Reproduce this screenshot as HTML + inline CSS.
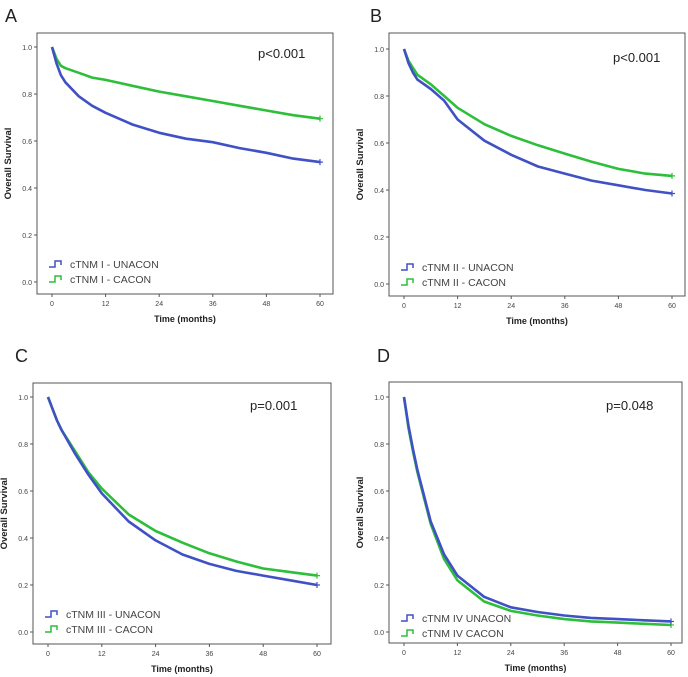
<!DOCTYPE html>
<html><head><meta charset="utf-8"><style>
body{margin:0;background:#fff;}
svg{display:block;font-family:"Liberation Sans",sans-serif;}
</style></head><body>
<svg id="fig" width="688" height="677" viewBox="0 0 688 677"></svg>
<script>
const months=[0,1,2,3,6,9,12,18,24,30,36,42,48,54,60];
const yTicks=[0,0.2,0.4,0.6,0.8,1.0];
const yTickLabels=["0.0","0.2","0.4","0.6","0.8","1.0"];
const xTicks=[0,12,24,36,48,60];
const aUnacon=[1,0.93,0.88,0.85,0.79,0.75,0.72,0.67,0.635,0.61,0.595,0.57,0.55,0.525,0.51];
const aCacon=[1,0.95,0.92,0.91,0.89,0.87,0.86,0.835,0.81,0.79,0.77,0.75,0.73,0.71,0.695];
const bUnacon=[1,0.94,0.9,0.87,0.83,0.78,0.7,0.61,0.55,0.5,0.47,0.44,0.42,0.4,0.385];
const bCacon=[1,0.95,0.92,0.89,0.85,0.8,0.75,0.68,0.63,0.59,0.555,0.52,0.49,0.47,0.46];
const cUnacon=[1,0.95,0.9,0.86,0.76,0.67,0.59,0.47,0.39,0.33,0.29,0.26,0.24,0.22,0.2];
const cCacon=[1,0.95,0.9,0.86,0.77,0.68,0.61,0.5,0.43,0.38,0.335,0.3,0.27,0.255,0.24];
const dUnacon=[1,0.88,0.78,0.69,0.47,0.33,0.24,0.15,0.105,0.085,0.07,0.06,0.055,0.05,0.045];
const dCacon=[1,0.87,0.77,0.68,0.46,0.31,0.22,0.13,0.09,0.07,0.055,0.045,0.04,0.035,0.03];

const NS="http://www.w3.org/2000/svg";
const svg=document.getElementById('fig');
function mk(tag,attrs,parent,text){const e=document.createElementNS(NS,tag);for(const k in attrs)e.setAttribute(k,attrs[k]);if(text!==undefined)e.textContent=text;(parent||svg).appendChild(e);return e;}

const panels=[
 {id:'a',letter:'A',lx:5,ly:22,box:[37,33,333,294],x0:52,x1:320,y1:47,y0:282,p:'p<0.001',px:258,py:58,ser:[aUnacon,aCacon],leg:['cTNM I - UNACON','cTNM I - CACON'],legY:265},
 {id:'b',letter:'B',lx:370,ly:22,box:[389,33,685,296],x0:404,x1:672,y1:49,y0:284,p:'p<0.001',px:613,py:62,ser:[bUnacon,bCacon],leg:['cTNM II - UNACON','cTNM II - CACON'],legY:268},
 {id:'c',letter:'C',lx:15,ly:362,box:[33,383,331,644],x0:48,x1:317,y1:397,y0:632,p:'p=0.001',px:250,py:410,ser:[cUnacon,cCacon],leg:['cTNM III - UNACON','cTNM III - CACON'],legY:615},
 {id:'d',letter:'D',lx:377,ly:362,box:[389,382,682,643],x0:404,x1:671,y1:397,y0:632,p:'p=0.048',px:606,py:410,ser:[dUnacon,dCacon],leg:['cTNM IV UNACON','cTNM IV CACON'],legY:619}
];
const colors=['#3f51c4','#2dbe3a'];
panels.forEach(P=>{
 const g=mk('g',{});
 
 
 const X=m=>P.x0+(P.x1-P.x0)*m/60;
 const Y=v=>P.y0-(P.y0-P.y1)*v;
 const t=mk('text',{x:P.lx,y:P.ly,'font-size':18,fill:'#222'},g,P.letter);
 
 const [l,tp,r,b]=P.box;
 const fr=mk('rect',{x:l,y:tp,width:r-l,height:b-tp,fill:'none',stroke:'#555','stroke-width':1},g);
 
 yTicks.forEach((v,i)=>{
  mk('line',{x1:l-3,x2:l,y1:Y(v),y2:Y(v),stroke:'#555'},g);
  const tl=mk('text',{x:l-5,y:Y(v)+3,'font-size':7,fill:'#444','text-anchor':'end'},g,yTickLabels[i]);
  
 });
 xTicks.forEach(m=>{
  mk('line',{x1:X(m),x2:X(m),y1:b,y2:b+3,stroke:'#555'},g);
  const tl=mk('text',{x:X(m),y:b+12,'font-size':7,fill:'#444','text-anchor':'middle'},g,String(m));
  
 });
 const xt=mk('text',{x:(l+r)/2,y:b+28,'font-size':9,'font-weight':'bold',fill:'#222','text-anchor':'middle'},g,'Time (months)');
 
 const yx=l-26,yy=(tp+b)/2;
 const yt=mk('text',{x:yx,y:yy,'font-size':9.5,'font-weight':'bold',fill:'#222','text-anchor':'middle',transform:`rotate(-90 ${yx} ${yy})`},g,'Overall Survival');
 
 const pv=mk('text',{x:P.px,y:P.py,'font-size':13,fill:'#222'},g,P.p);
 
 [1,0].forEach(si=>{
  const vals=P.ser[si];
  let d='M'+X(months[0])+','+Y(vals[0]);
  for(let i=1;i<months.length;i++)d+=' L'+X(months[i]).toFixed(1)+','+Y(vals[i]).toFixed(1);
  const pth=mk('path',{d:d,fill:'none',stroke:colors[si],'stroke-width':2.6,'stroke-linejoin':'round'},g);
  
  
  const xe=X(months[months.length-1]),ye=Y(vals[vals.length-1]);
  mk('path',{d:`M${xe-3},${ye}h6M${xe},${ye-3}v6`,stroke:colors[si],'stroke-width':1.2},g);
 });
 P.leg.forEach((txt,i)=>{
  const ly=P.legY+i*15, lx=l+12;
  const le=mk('g',{},g);
  
  mk('path',{d:`M${lx},${ly+2}h6v-6h6v4`,fill:'none',stroke:colors[i],'stroke-width':1.5},le);
  mk('text',{x:lx+21,y:ly+3,'font-size':10.5,fill:'#444'},le,txt);
 });
});
</script>
</body></html>
